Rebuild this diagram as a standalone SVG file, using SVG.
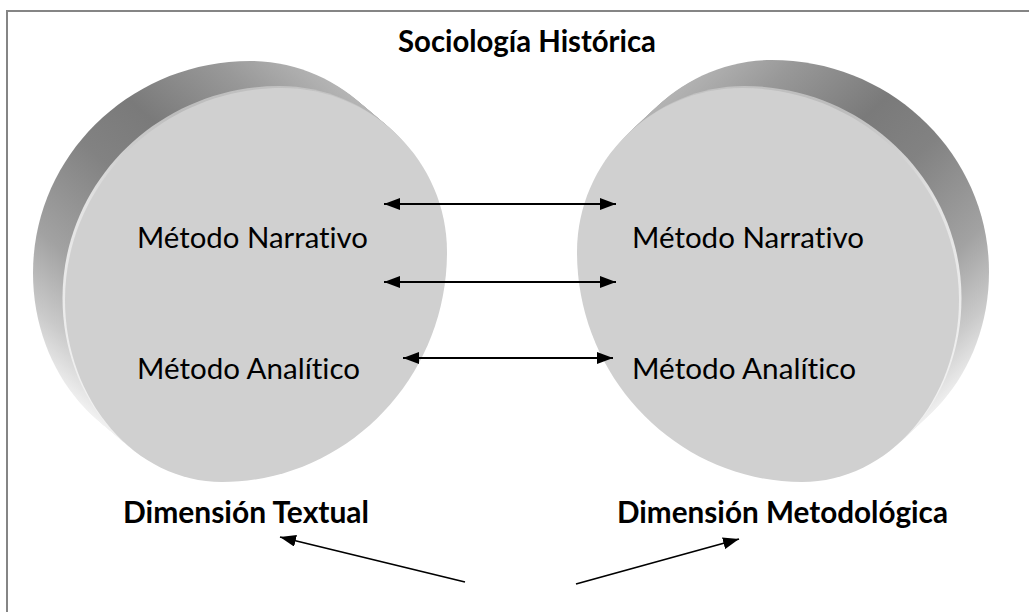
<svg xmlns="http://www.w3.org/2000/svg" xmlns:xlink="http://www.w3.org/1999/xlink" width="1029" height="612" viewBox="0 0 1029 612">
<style>
.t{font-family:Lato,"Open Sans","Liberation Sans",sans-serif;font-size:29.5px;fill:#000;font-variant-ligatures:none}
.b{font-weight:bold}
.c{stroke:#000;stroke-width:1.8;fill:none}
.face{fill:#d0d0d0}
</style>
<defs>
<path id="fL" d="M282,88 C372.5,88 447,161.4 447,252 C447,379 345.4,482 222,482 C135.4,482 65,400.5 65,300 C65,182.9 162.5,88 282,88 Z"/>
<path id="fR" d="M742,88 C651.5,88 577,161.4 577,252 C577,379 678.6,482 802,482 C888.6,482 959,400.5 959,300 C959,182.9 861.5,88 742,88 Z"/>
<linearGradient id="rimL" gradientUnits="userSpaceOnUse" x1="100" y1="427" x2="363" y2="103">
<stop offset="0" stop-color="#f4f4f4"/>
<stop offset="0.12" stop-color="#cacaca"/>
<stop offset="0.27" stop-color="#a2a2a2"/>
<stop offset="0.5" stop-color="#828282"/>
<stop offset="0.65" stop-color="#7a7a7a"/>
<stop offset="0.85" stop-color="#989898"/>
<stop offset="1" stop-color="#b6b6b6"/>
</linearGradient>
<linearGradient id="rimR" gradientUnits="userSpaceOnUse" x1="926" y1="427" x2="652" y2="103">
<stop offset="0" stop-color="#f4f4f4"/>
<stop offset="0.12" stop-color="#cacaca"/>
<stop offset="0.27" stop-color="#a2a2a2"/>
<stop offset="0.5" stop-color="#828282"/>
<stop offset="0.65" stop-color="#7a7a7a"/>
<stop offset="0.85" stop-color="#989898"/>
<stop offset="1" stop-color="#b6b6b6"/>
</linearGradient>
<linearGradient id="bevL" gradientUnits="userSpaceOnUse" x1="100" y1="427" x2="363" y2="103">
<stop offset="0" stop-color="#f2f2f2"/>
<stop offset="0.4" stop-color="#e2e2e2"/>
<stop offset="0.7" stop-color="#bcbcbc"/>
<stop offset="1" stop-color="#c4c4c4"/>
</linearGradient>
<linearGradient id="bevR" gradientUnits="userSpaceOnUse" x1="926" y1="427" x2="652" y2="103">
<stop offset="0" stop-color="#f2f2f2"/>
<stop offset="0.4" stop-color="#e2e2e2"/>
<stop offset="0.7" stop-color="#bcbcbc"/>
<stop offset="1" stop-color="#c4c4c4"/>
</linearGradient>
<marker id="ah" viewBox="0 0 16 12" refX="16" refY="6" markerWidth="16" markerHeight="12" markerUnits="userSpaceOnUse" orient="auto-start-reverse">
<path d="M0,0 L16,6 L0,12 Z" fill="#000"/>
</marker>
</defs>

<g id="frame">
<path d="M7,612 L7,11 L1029,11" fill="none" stroke="#858585" stroke-width="2"/>
</g>

<g id="title">
<text class="t b" x="398" y="52" textLength="258" lengthAdjust="spacingAndGlyphs">Sociología Histórica</text>
</g>

<g id="disc-left">
<g fill="url(#rimL)">
<use xlink:href="#fL" transform="translate(-32,-27)"/>
<use xlink:href="#fL" transform="translate(-30,-25.3)"/>
<use xlink:href="#fL" transform="translate(-28,-23.6)"/>
<use xlink:href="#fL" transform="translate(-26,-21.9)"/>
<use xlink:href="#fL" transform="translate(-24,-20.3)"/>
<use xlink:href="#fL" transform="translate(-22,-18.6)"/>
<use xlink:href="#fL" transform="translate(-20,-16.9)"/>
<use xlink:href="#fL" transform="translate(-18,-15.2)"/>
<use xlink:href="#fL" transform="translate(-16,-13.5)"/>
<use xlink:href="#fL" transform="translate(-14,-11.8)"/>
<use xlink:href="#fL" transform="translate(-12,-10.1)"/>
<use xlink:href="#fL" transform="translate(-10,-8.4)"/>
<use xlink:href="#fL" transform="translate(-8,-6.8)"/>
<use xlink:href="#fL" transform="translate(-6,-5.1)"/>
<use xlink:href="#fL" transform="translate(-4,-3.4)"/>
</g>
<use xlink:href="#fL" transform="translate(-2.5,-2)" fill="url(#bevL)"/>
<use xlink:href="#fL" class="face"/>
<text class="t" x="137" y="248" textLength="231" lengthAdjust="spacingAndGlyphs">Método Narrativo</text>
<text class="t" x="137" y="379" textLength="223" lengthAdjust="spacingAndGlyphs">Método Analítico</text>
</g>

<g id="disc-right">
<g fill="url(#rimR)">
<use xlink:href="#fR" transform="translate(30,-28)"/>
<use xlink:href="#fR" transform="translate(28,-26.1)"/>
<use xlink:href="#fR" transform="translate(26,-24.3)"/>
<use xlink:href="#fR" transform="translate(24,-22.4)"/>
<use xlink:href="#fR" transform="translate(22,-20.5)"/>
<use xlink:href="#fR" transform="translate(20,-18.7)"/>
<use xlink:href="#fR" transform="translate(18,-16.8)"/>
<use xlink:href="#fR" transform="translate(16,-14.9)"/>
<use xlink:href="#fR" transform="translate(14,-13.1)"/>
<use xlink:href="#fR" transform="translate(12,-11.2)"/>
<use xlink:href="#fR" transform="translate(10,-9.3)"/>
<use xlink:href="#fR" transform="translate(8,-7.5)"/>
<use xlink:href="#fR" transform="translate(6,-5.6)"/>
<use xlink:href="#fR" transform="translate(4,-3.7)"/>
</g>
<use xlink:href="#fR" transform="translate(2.5,-2)" fill="url(#bevR)"/>
<use xlink:href="#fR" class="face"/>
<text class="t" x="632" y="248" textLength="232" lengthAdjust="spacingAndGlyphs">Método Narrativo</text>
<text class="t" x="632" y="379" textLength="224" lengthAdjust="spacingAndGlyphs">Método Analítico</text>
</g>

<g id="label-textual">
<text class="t b" x="123" y="523" textLength="246" lengthAdjust="spacingAndGlyphs">Dimensión Textual</text>
</g>
<g id="label-metodologica">
<text class="t b" x="617" y="523" textLength="331" lengthAdjust="spacingAndGlyphs">Dimensión Metodológica</text>
</g>

<g id="connectors">
<path class="c" d="M384,204 L616,204" marker-start="url(#ah)" marker-end="url(#ah)"/>
<path class="c" d="M384,282 L616,282" marker-start="url(#ah)" marker-end="url(#ah)"/>
<path class="c" d="M403,358 L613,358" marker-start="url(#ah)" marker-end="url(#ah)"/>
<path class="c" d="M465,582 L280,537" marker-end="url(#ah)"/>
<path class="c" d="M576,584 L739,539" marker-end="url(#ah)"/>
</g>
</svg>
